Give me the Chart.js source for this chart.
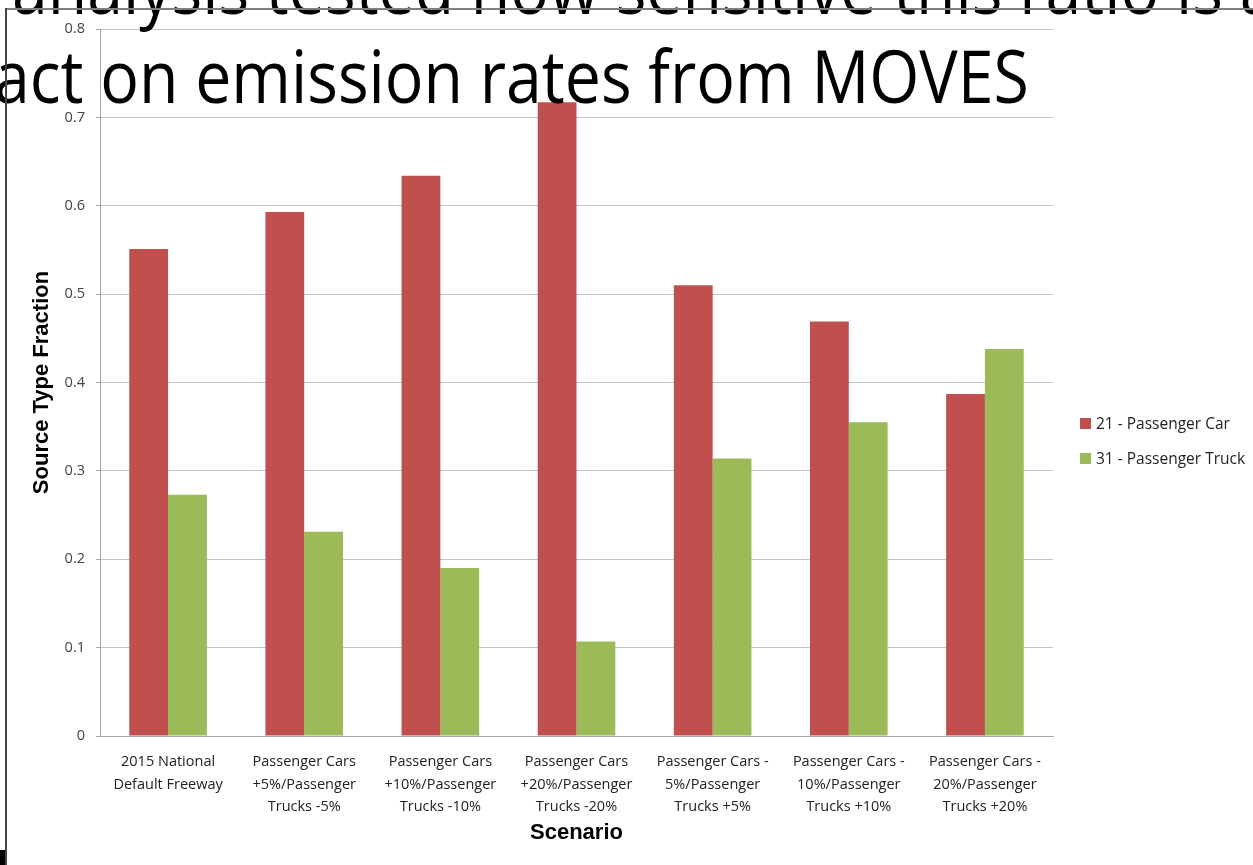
<!DOCTYPE html>
<html>
<head>
<meta charset="utf-8">
<script src="https://cdn.jsdelivr.net/npm/chart.js@4.4.1/dist/chart.umd.min.js"></script>
<style>
  html, body { margin: 0; padding: 0; background: #fff; overflow: hidden; }
  #wrap { position: relative; width: 1253px; height: 865px; }
  #legend { position: absolute; left: 1080px; top: 409px; font-family: "Open Sans", sans-serif; font-size: 15.5px; color: #222; white-space: nowrap; }
  #legend .item { position: absolute; left: 0; height: 28px; display: flex; align-items: center; }
  #legend .box { width: 11px; height: 11px; margin-right: 5px; }
</style>
</head>
<body>
<div id="wrap">
  <canvas id="chBars" width="1253" height="865"></canvas>
  <div id="legend"></div>
</div>
<script>
// scenario names (one array per wrapped label)
var scenarios = [
  ["2015 National", "Default Freeway"],
  ["Passenger Cars", "+5%/Passenger", "Trucks -5%"],
  ["Passenger Cars", "+10%/Passenger", "Trucks -10%"],
  ["Passenger Cars", "+20%/Passenger", "Trucks -20%"],
  ["Passenger Cars -", "5%/Passenger", "Trucks +5%"],
  ["Passenger Cars -", "10%/Passenger", "Trucks +10%"],
  ["Passenger Cars -", "20%/Passenger", "Trucks +20%"]
];

// source type fractions
var passengerCar = [0.551, 0.593, 0.634, 0.717, 0.510, 0.469, 0.387];
var passengerTruck = [0.273, 0.231, 0.190, 0.107, 0.314, 0.355, 0.438];

var seriesNames = ["21 - Passenger Car", "31 - Passenger Truck"];
var colors = ["#C0504D", "#9BBB59"];

var yTicks = [0, 0.1, 0.2, 0.3, 0.4, 0.5, 0.6, 0.7, 0.8];

// slide text lying over the chart
var slideLines = [
  "analysis tested how sensitive this ratio is and",
  "act on emission rates from MOVES"
];

var slideOverlay = {
  id: "slideOverlay",
  afterDraw: function (chart) {
    var ctx = chart.ctx;
    ctx.save();
    ctx.fillStyle = "#000";
    ctx.textBaseline = "alphabetic";
    ctx.font = '74px "Open Sans", sans-serif';
    ctx.save();
    ctx.scale(0.87, 1);
    ctx.fillText(slideLines[0], 12 / 0.87, 14);
    ctx.fillText(slideLines[1], -6 / 0.87, 103);
    ctx.restore();

    // frame edges
    ctx.fillStyle = "#7f7f7f";
    ctx.fillRect(5, 8, 1248, 2);
    ctx.fillStyle = "#444";
    ctx.fillRect(5, 8, 2, 857);
    ctx.fillStyle = "#000";
    ctx.fillRect(0, 850, 5, 15);
    ctx.restore();
  }
};

var chData = {
  labels: scenarios,
  datasets: [
    {
      label: seriesNames[0],
      data: passengerCar,
      backgroundColor: colors[0],
      borderWidth: 0
    },
    {
      label: seriesNames[1],
      data: passengerTruck,
      backgroundColor: colors[1],
      borderWidth: 0
    }
  ]
};

var chOptions = {
  responsive: false,
  animation: false,
  layout: { padding: { left: 26, right: 200, top: 29, bottom: 0 } },
  plugins: {
    legend: { display: false },
    tooltip: { enabled: false }
  },
  datasets: {
    bar: { categoryPercentage: 0.57, barPercentage: 1 }
  },
  scales: {
    x: {
      grid: { display: false, drawTicks: false },
      border: { display: true, color: "#a6a6a6", width: 1 },
      ticks: {
        autoSkip: false,
        maxRotation: 0,
        padding: 15,
        color: "#222",
        font: { family: "Open Sans", size: 14.5, lineHeight: 1.55 }
      },
      title: {
        display: true,
        text: "Scenario",
        color: "#000",
        padding: { top: 4, bottom: 19 },
        font: { family: "Liberation Sans", size: 22, weight: "bold" }
      },
      afterFit: function (scale) { scale.height = 129; }
    },
    y: {
      min: 0,
      max: 0.8,
      afterBuildTicks: function (scale) {
        scale.ticks = yTicks.map(function (v) { return { value: v }; });
      },
      grid: { color: "#c4c4c4", tickColor: "#a6a6a6", tickLength: 4 },
      border: { display: true, color: "#a6a6a6", width: 1 },
      ticks: {
        padding: 11,
        color: "#444",
        font: { family: "Open Sans", size: 14.5 },
        callback: function (v) { return v === 0 ? "0" : v.toFixed(1); }
      },
      title: {
        display: true,
        text: "Source Type Fraction",
        color: "#000",
        padding: { top: 3, bottom: 4 },
        font: { family: "Liberation Sans", size: 22, weight: "bold" }
      },
      afterFit: function (scale) { scale.width = 74; }
    }
  }
};

var chBars = document.getElementById("chBars");
if (chBars) {
  this.c1 = new Chart(chBars, {
    type: "bar",
    data: chData,
    options: chOptions,
    plugins: [slideOverlay]
  });
}

// legend built from the chart's datasets
if (chBars) {
  var html = [];
  this.c1.data.datasets.forEach(function (ds, i) {
    html.push(
      '<div class="item" style="top:' + i * 35 + 'px"><span class="box" style="background-color:' +
        ds.backgroundColor + '"></span>' + ds.label + "</div>"
    );
  });
  document.getElementById("legend").innerHTML = html.join("");
}
</script>
</body>
</html>
